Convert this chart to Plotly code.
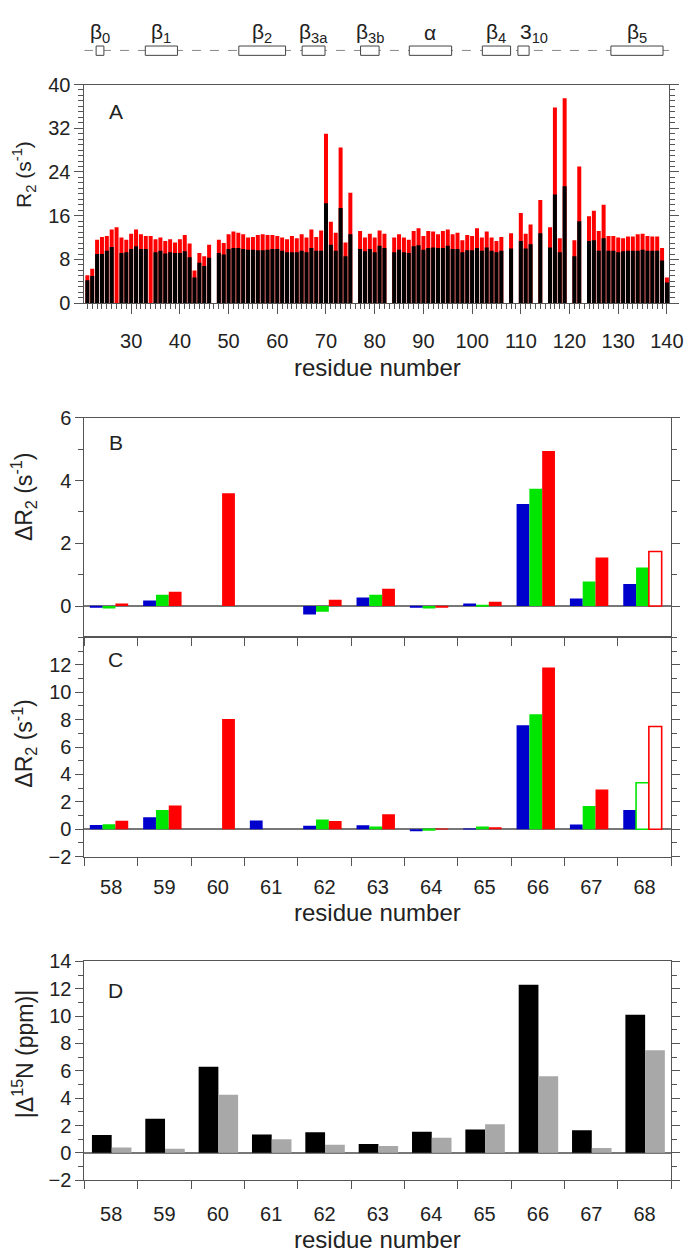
import plotly.graph_objects as go

W, H = 693, 1251
FONT = "Liberation Sans, Arial, sans-serif"
AX = "#555555"
TXT = "#222222"

# ---------------- Panel A : R2 per residue ----------------
residues_A = list(range(21, 141))
r2_total = [5.1, 6.3, 11.6, 12.1, 12.3, 13.5, 13.9, 12.0, 11.6, 12.7,
            13.5, 12.6, 12.3, 12.3, 11.7, 12.0, 11.4, 11.7, 11.1, 11.7,
            12.5, 10.9, 6.0, 9.2, 8.6, 10.7, None, 11.6, 11.0, 12.6,
            13.1, 12.9, 12.6, 12.0, 12.1, 12.5, 12.6, 12.5, 12.5, 12.3,
            12.0, 11.7, 12.3, 11.9, 12.6, 12.0, 13.5, 12.1, 13.3, 31.0,
            14.9, 12.9, 28.5, 11.1, 20.2, None, 13.2, 12.0, 12.7, 12.0,
            13.3, 12.7, None, 12.0, 12.6, 12.0, 11.6, 13.2, 13.7, 12.3,
            13.2, 13.1, 12.6, 13.2, 13.5, 12.6, 12.9, 11.5, 12.5, 12.3,
            13.7, 12.0, 13.1, 12.0, 11.4, 12.1, None, 12.8, None, 16.5,
            12.7, 14.4, None, 18.9, None, 13.9, 35.8, 11.9, 37.5, None,
            11.5, 25.0, None, 15.9, 16.9, 13.2, 18.0, 12.3, 12.3, 12.0,
            11.9, 12.2, 12.2, 12.6, 12.7, 12.3, 12.2, 12.2, 10.1, 4.7]
r2_black = [4.2, 5.0, 9.0, 9.0, 9.6, 10.3, 0, 9.2, 9.3, 9.9,
            10.4, 9.9, 9.9, 0, 9.3, 9.6, 9.1, 9.3, 9.2, 9.2,
            9.5, 8.4, 4.7, 7.4, 6.8, 8.3, None, 9.2, 8.9, 9.9,
            10.1, 10.1, 9.9, 9.8, 9.8, 9.7, 9.7, 9.8, 9.9, 9.9,
            9.6, 9.3, 9.3, 9.3, 9.6, 9.3, 10.1, 9.6, 9.6, 18.3,
            10.7, 9.6, 17.4, 8.6, 12.6, None, 9.9, 9.5, 9.9, 9.3,
            10.5, 10.1, None, 9.3, 9.8, 9.3, 9.2, 10.4, 10.6, 9.8,
            10.1, 10.2, 10.1, 10.1, 10.5, 9.9, 9.9, 9.3, 9.7, 9.7,
            10.1, 9.6, 10.2, 9.6, 9.3, 9.6, None, 10.0, None, 11.4,
            10.0, 10.8, None, 12.8, None, 10.2, 19.9, 9.3, 21.4, None,
            8.6, 15.0, None, 11.4, 11.5, 9.6, 11.9, 9.6, 9.6, 9.3,
            9.5, 9.6, 9.6, 9.6, 9.8, 9.6, 9.6, 9.6, 7.8, 3.8]
ticks_A = list(range(30, 141, 10))

# secondary structure elements (residue ranges)
ss_labels = ["β<sub>0</sub>", "β<sub>1</sub>", "β<sub>2</sub>", "β<sub>3a</sub>", "β<sub>3b</sub>",
             "α", "β<sub>4</sub>", "3<sub>10</sub>", "β<sub>5</sub>"]
ss_start = [22.8, 32.9, 52.1, 65.1, 77.1, 87.1, 102.1, 109.4, 128.5]
ss_end = [24.4, 39.5, 61.7, 69.8, 80.9, 95.8, 107.9, 111.7, 139.2]
ss_line = [20.3, 140.9]

# ---------------- Panels B, C, D ----------------
residues_BCD = list(range(58, 69))
dR2_B_blue = [-0.05, 0.18, None, None, -0.27, 0.27, -0.04, 0.08, 3.25, 0.24, 0.70]
dR2_B_green = [-0.08, 0.36, None, None, -0.18, 0.36, -0.08, 0.02, 3.74, 0.78, 1.23]
dR2_B_red = [0.08, 0.46, 3.60, None, 0.20, 0.55, -0.03, 0.14, 4.94, 1.55, 1.74]
open_B_red = [False] * 10 + [True]

dR2_C_blue = [0.31, 0.88, None, 0.65, 0.25, 0.30, -0.15, 0.03, 7.6, 0.35, 1.4]
dR2_C_green = [0.37, 1.40, None, None, 0.72, 0.20, -0.10, 0.20, 8.4, 1.7, 3.4]
dR2_C_red = [0.62, 1.74, 8.05, None, 0.60, 1.10, 0.05, 0.15, 11.8, 2.9, 7.5]
open_C_green = [False] * 10 + [True]
open_C_red = [False] * 10 + [True]

dN_black = [1.3, 2.5, 6.3, 1.35, 1.5, 0.65, 1.55, 1.7, 12.3, 1.65, 10.1]
dN_gray = [0.4, 0.3, 4.25, 1.0, 0.6, 0.5, 1.1, 2.1, 5.6, 0.35, 7.5]

BLUE, GREEN, RED, GRAY = "#0000cc", "#00e600", "#ff0000", "#a8a8a8"


def py(p):
    return 1 - p / H


def pxx(p):
    return p / W


fig = go.Figure()

# Panel A bars (red total, black overlaid)
fig.add_trace(go.Bar(x=residues_A, y=r2_total, width=0.82, marker=dict(color=RED, line=dict(width=0)),
                     xaxis="x", yaxis="y", showlegend=False))
fig.add_trace(go.Bar(x=residues_A, y=r2_black, width=0.82, marker=dict(color="#000000", line=dict(width=0)),
                     xaxis="x", yaxis="y", showlegend=False))


def add_series(vals, color, offset, width, xa, ya, open_flags=None):
    if open_flags is None:
        open_flags = [False] * len(vals)
    fills = ["#ffffff" if o else color for o in open_flags]
    lw = [1.6 if o else 0 for o in open_flags]
    fig.add_trace(go.Bar(x=residues_BCD, y=vals, width=width, offset=offset,
                         marker=dict(color=fills, line=dict(color=color, width=lw)),
                         xaxis=xa, yaxis=ya, showlegend=False))


add_series(dR2_B_blue, BLUE, -0.40, 0.24, "x2", "y2")
add_series(dR2_B_green, GREEN, -0.16, 0.24, "x2", "y2")
add_series(dR2_B_red, RED, 0.08, 0.24, "x2", "y2", open_B_red)

add_series(dR2_C_blue, BLUE, -0.40, 0.24, "x3", "y3")
add_series(dR2_C_green, GREEN, -0.16, 0.24, "x3", "y3", open_C_green)
add_series(dR2_C_red, RED, 0.08, 0.24, "x3", "y3", open_C_red)

add_series(dN_black, "#000000", -0.36, 0.37, "x4", "y4")
add_series(dN_gray, GRAY, 0.01, 0.37, "x4", "y4")

tickfont = dict(family=FONT, size=20, color=TXT)
base = dict(showline=True, linecolor=AX, linewidth=1, showgrid=False, zeroline=False,
            ticks="outside", tickcolor=AX, tickwidth=1, tickfont=tickfont)


def minor(dtick, tick0=0, ticklen=5, ticks="outside"):
    return dict(ticks=ticks, dtick=dtick, tick0=tick0, ticklen=ticklen, tickcolor=AX, tickwidth=1, showgrid=False)


xdom = [pxx(78), pxx(677)]
layout = dict(
    width=W, height=H, margin=dict(l=0, r=0, t=0, b=0),
    paper_bgcolor="white", plot_bgcolor="white",
    barmode="overlay", showlegend=False,
    xaxis=dict(base, domain=[pxx(78), pxx(675)], anchor="y", range=[20.4, 140.5],
               tickmode="array", tickvals=ticks_A, ticklen=10, mirror=True,
               minor=minor(1, 0, 5), ticklabelstandoff=10),
    yaxis=dict(base, domain=[py(289.3), py(66.7)], anchor="x", range=[0, 40],
               tickmode="array", tickvals=[0, 8, 16, 24, 32, 40], ticklen=9, mirror="ticks",
               minor=minor(1, 0, 5)),
    xaxis2=dict(base, domain=xdom, anchor="y2", range=[57.499, 68.501], tickmode="array",
                tickvals=residues_BCD, ticklen=0, showticklabels=False, mirror=True,
                minor=minor(1, 57.5, 8)),
    xaxis5=dict(domain=xdom, anchor="y2", overlaying="x2", range=[57.499, 68.501], showline=False,
                showgrid=False, zeroline=False, tickmode="array", tickvals=residues_BCD, ticks="inside",
                ticklen=0, showticklabels=False, minor=minor(1, 57.5, 7, "inside")),
    yaxis2=dict(base, domain=[py(629.5), py(406)], anchor="x2", range=[-1, 6],
                tickmode="array", tickvals=[0, 2, 4, 6], ticklen=8, mirror="ticks",
                minor=minor(1, 0, 5), zeroline=True, zerolinecolor="#777777", zerolinewidth=1.5),
    xaxis3=dict(base, domain=xdom, anchor="y3", range=[57.499, 68.501], tickmode="array",
                tickvals=residues_BCD, ticklen=0, mirror=True, minor=minor(1, 57.5, 8),
                ticklabelstandoff=12),
    yaxis3=dict(base, domain=[py(852.7), py(629.5)], anchor="x3", range=[-2, 14],
                tickmode="array", tickvals=[-2, 0, 2, 4, 6, 8, 10, 12], ticklen=8, mirror="ticks",
                minor=minor(1, 0, 5), zeroline=True, zerolinecolor="#777777", zerolinewidth=1.5),
    xaxis4=dict(base, domain=xdom, anchor="y4", range=[57.499, 68.501], tickmode="array",
                tickvals=residues_BCD, ticklen=0, mirror=True, minor=minor(1, 57.5, 8),
                ticklabelstandoff=16),
    yaxis4=dict(base, domain=[py(1182), py(959.3)], anchor="x4", range=[-2, 14],
                tickmode="array", tickvals=[-2, 0, 2, 4, 6, 8, 10, 12, 14], ticklen=8, mirror="ticks",
                minor=minor(1, 0, 5), zeroline=True, zerolinecolor="#777777", zerolinewidth=1.5),
)
fig.update_layout(**layout)

# secondary structure diagram
shapes = [dict(type="line", xref="x", yref="paper", x0=ss_line[0], x1=ss_line[1], y0=py(32), y1=py(32),
               line=dict(color="#888888", width=1, dash="dash"), layer="below")]
for s, e in zip(ss_start, ss_end):
    shapes.append(dict(type="rect", xref="x", yref="paper", x0=s, x1=e, y0=py(37), y1=py(27.5),
                       line=dict(color="#444444", width=1), fillcolor="white"))
fig.update_layout(shapes=shapes)

ann = []
for lab, s, e in zip(ss_labels, ss_start, ss_end):
    if lab.startswith("3"):
        ann.append(dict(text=lab, x=s, xref="x", xanchor="left", y=py(14), yref="paper", yanchor="middle",
                        showarrow=False, font=dict(family=FONT, size=21, color=TXT)))
    else:
        ann.append(dict(text=lab, x=(s + e) / 2, xref="x", xanchor="center", y=py(14), yref="paper",
                        yanchor="middle", showarrow=False, font=dict(family=FONT, size=21, color=TXT)))

# panel letters
for lab, yy in [("A", 94.5), ("B", 431), ("C", 652), ("D", 989)]:
    ann.append(dict(text=lab, x=pxx(110), y=py(yy), xref="paper", yref="paper", xanchor="center",
                    yanchor="middle", showarrow=False, font=dict(family=FONT, size=21, color=TXT)))

# axis titles
for yy in [355, 910, 1242]:
    ann.append(dict(text="residue number", x=pxx(377), y=py(yy), xref="paper", yref="paper",
                    xanchor="center", yanchor="middle", showarrow=False,
                    font=dict(family=FONT, size=24, color=TXT)))
for txt, yy, fs in [("R<sub>2</sub> (s<sup>-1</sup>)", 158, 21), ("ΔR<sub>2</sub> (s<sup>-1</sup>)", 487, 23),
                    ("ΔR<sub>2</sub> (s<sup>-1</sup>)", 738, 23), ("|Δ<sup>15</sup>N (ppm)|", 1054, 23)]:
    ann.append(dict(text=txt, x=pxx(16), y=py(yy), xref="paper", yref="paper", xanchor="center",
                    yanchor="middle", textangle=-90, showarrow=False,
                    font=dict(family=FONT, size=fs, color=TXT)))
fig.update_layout(annotations=ann)

fig.write_html("out.html")
